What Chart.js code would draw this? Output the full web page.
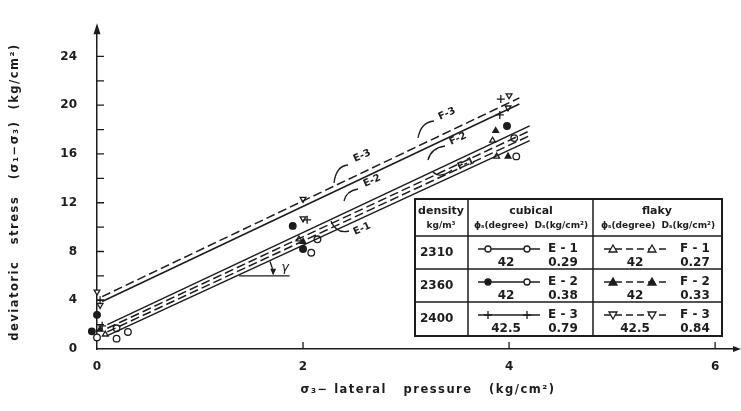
<!DOCTYPE html>
<html lang="en">
<head>
<meta charset="UTF-8">
<title>Deviatoric stress vs lateral pressure</title>
<script src="https://cdn.jsdelivr.net/npm/chart.js"></script>
<style>
  html, body { margin: 0; padding: 0; background: #fff; }
  #wrap { width: 741px; height: 411px; }
</style>
</head>
<body>
<div id="wrap"><canvas id="chart" width="741" height="411"></canvas></div>
<script>
// fitted lines: start / end of each line (x = lateral pressure, y = deviatoric stress)
const e1Line = { x: [0.1, 4.2], y: [1.1, 17.1] };
const e2Line = { x: [0.1, 4.2], y: [2.0, 18.3] };
const e3Line = { x: [0.05, 4.1], y: [3.9, 20.1] };
const f1Line = { x: [0.1, 4.2], y: [1.4, 17.5] };
const f2Line = { x: [0.1, 4.2], y: [1.7, 17.9] };
const f3Line = { x: [0.05, 4.1], y: [4.3, 20.6] };

// test points
const e1X = [0, 0.19, 0.19, 0.3, 2.14, 2.08, 4.07, 4.05];
const e1Y = [0.95, 1.7, 0.85, 1.4, 9.0, 7.9, 15.8, 17.3];
const e2X = [-0.1, -0.05, 0, 1.9, 2.0, 3.98];
const e2Y = [1.9, 1.45, 2.8, 10.1, 8.2, 18.3];
const e3X = [0.03, 0.05, 2.04, 3.92, 3.91];
const e3Y = [4.0, 1.9, 10.6, 20.5, 19.2];
const f1X = [0.08, 1.96, 3.84, 3.88];
const f1Y = [1.2, 9.0, 17.1, 15.8];
const f2X = [0.03, 2.0, 3.87, 3.99];
const f2Y = [1.6, 8.8, 17.9, 15.8];
const f3X = [0, 0.03, 2.0, 2.0, 4.0, 3.99];
const f3Y = [4.7, 3.6, 12.3, 10.7, 20.8, 19.8];

// angle reference line (gamma)
const gammaX = [1.38, 1.87];
const gammaY = [6.0, 6.0];

// table contents
const densities = ['2310', '2360', '2400'];
const cubicalNames = ['E - 1', 'E - 2', 'E - 3'];
const cubicalPhi = ['42', '42', '42.5'];
const cubicalD = ['0.29', '0.38', '0.79'];
const flakyNames = ['F - 1', 'F - 2', 'F - 3'];
const flakyPhi = ['42', '42', '42.5'];
const flakyD = ['0.27', '0.33', '0.84'];

const ink = '#1c1c1c';
const fam = '"DejaVu Sans", sans-serif';

const pts = (xs, ys) => xs.map((x, i) => ({ x: x, y: ys[i] }));

function fitLine(l, dashed) {
    return {
        data: pts(l.x, l.y), showLine: true, pointRadius: 0,
        borderColor: ink, borderWidth: 1.5, borderDash: dashed ? [9, 4] : [], clip: false
    };
}
function marks(xs, ys, style, filled, rot) {
    return {
        data: pts(xs, ys), showLine: false, pointStyle: style, pointRotation: rot || 0,
        pointRadius: style === 'cross' ? 4 : 3.3, pointBorderWidth: 1.3,
        pointBorderColor: ink, pointBackgroundColor: filled ? ink : '#fff', clip: false
    };
}

// small marker for the table samples
function drawMark(ctx, kind, x, y) {
    ctx.save();
    ctx.lineWidth = 1.3;
    ctx.strokeStyle = ink;
    ctx.fillStyle = ink;
    ctx.beginPath();
    if (kind === 'oc' || kind === 'fc') {
        ctx.arc(x, y, 3, 0, Math.PI * 2);
        if (kind === 'fc') ctx.fill(); else { ctx.fillStyle = '#fff'; ctx.fill(); }
        ctx.stroke();
    } else if (kind === 'plus') {
        ctx.moveTo(x - 4, y); ctx.lineTo(x + 4, y);
        ctx.moveTo(x, y - 4); ctx.lineTo(x, y + 4);
        ctx.stroke();
    } else {
        const d = kind === 'down' ? -1 : 1;
        ctx.moveTo(x, y - 4 * d); ctx.lineTo(x + 4, y + 3 * d); ctx.lineTo(x - 4, y + 3 * d);
        ctx.closePath();
        if (kind === 'ft') ctx.fill(); else { ctx.fillStyle = '#fff'; ctx.fill(); }
        ctx.stroke();
    }
    ctx.restore();
}

function tiltedText(ctx, txt, x, y, ang) {
    ctx.save();
    ctx.translate(x, y);
    ctx.rotate(ang);
    ctx.fillText(txt, 0, 0);
    ctx.restore();
}

const decor = {
    id: 'decor',
    afterDraw(chart) {
        const ctx = chart.ctx;
        const xs = chart.scales.x, ys = chart.scales.y;
        const a = chart.chartArea;
        const x0 = xs.getPixelForValue(0), y0 = ys.getPixelForValue(0);
        ctx.save();
        ctx.strokeStyle = ink;
        ctx.fillStyle = ink;
        ctx.lineWidth = 1.5;

        // arrow heads
        ctx.beginPath();
        ctx.moveTo(x0, a.top - 4); ctx.lineTo(x0 - 3.5, a.top + 7); ctx.lineTo(x0 + 3.5, a.top + 7);
        ctx.closePath(); ctx.fill();
        ctx.beginPath();
        ctx.moveTo(741, y0); ctx.lineTo(733, y0 - 3); ctx.lineTo(733, y0 + 3);
        ctx.closePath(); ctx.fill();

        // inner ticks
        ctx.lineWidth = 1.3;
        ctx.beginPath();
        for (let v = 2; v <= 24; v += 2) {
            const py = ys.getPixelForValue(v);
            ctx.moveTo(x0, py); ctx.lineTo(x0 + 7, py);
        }
        for (let v = 2; v <= 6; v += 2) {
            const px = xs.getPixelForValue(v);
            ctx.moveTo(px, y0); ctx.lineTo(px, y0 - 7);
        }
        ctx.stroke();

        // axis titles
        ctx.font = 'bold 11.5px ' + fam;
        ctx.letterSpacing = '1.5px';
        ctx.textAlign = 'center';
        ctx.textBaseline = 'middle';
        ctx.save();
        ctx.translate(15, 192);
        ctx.rotate(-Math.PI / 2);
        ctx.fillText('deviatoric   stress   (σ\u2081\u2212σ\u2083)  (kg/cm\u00b2)', 0, 0);
        ctx.restore();
        ctx.fillText('σ\u2083\u2212 lateral   pressure   (kg/cm\u00b2)', 428, 390);
        ctx.letterSpacing = '0px';

        // gamma angle
        const vx = xs.getPixelForValue(gammaX[0]), vy = ys.getPixelForValue(gammaY[0]);
        const ang = Math.atan(((e1Line.y[1] - e1Line.y[0]) * (ys.getPixelForValue(0) - ys.getPixelForValue(1))) /
            ((e1Line.x[1] - e1Line.x[0]) * (xs.getPixelForValue(1) - xs.getPixelForValue(0))));
        ctx.lineWidth = 1.3;
        ctx.beginPath();
        ctx.arc(vx, vy, 34, -ang, -0.06);
        ctx.stroke();
        ctx.beginPath();
        ctx.moveTo(vx + 34, vy - 0.5); ctx.lineTo(vx + 31, vy - 7); ctx.lineTo(vx + 37, vy - 7);
        ctx.closePath(); ctx.fill();
        ctx.font = 'italic 13px ' + fam;
        ctx.fillText('γ', vx + 46, vy - 8);

        // line labels with curved leaders
        const tilt = -ang;
        ctx.font = 'bold 10px ' + fam;
        const labels = [
            ['E-3', 362, 156, [348, 165, 336, 166, 334, 183]],
            ['E-2', 372, 181, [358, 189, 346, 191, 344, 201]],
            ['E-1', 362, 229, [349, 231, 336, 234, 331, 221]],
            ['F-3', 447, 114, [434, 121, 421, 122, 418, 138]],
            ['F-2', 458, 139, [445, 146, 431, 148, 428, 160]],
            ['F-1', 466, 164, [452, 170, 440, 179, 433, 172]]
        ];
        labels.forEach(l => {
            ctx.fillStyle = ink;
            tiltedText(ctx, l[0], l[1], l[2], tilt);
            const c = l[3];
            ctx.beginPath();
            ctx.moveTo(c[0], c[1]);
            ctx.quadraticCurveTo(c[2], c[3], c[4], c[5]);
            ctx.stroke();
        });

        // inset table
        const T = { l: 415, r: 722, t: 199, b: 336, rows: [236, 269, 302], cols: [468, 593] };
        ctx.fillStyle = '#fff';
        ctx.fillRect(T.l, T.t, T.r - T.l, T.b - T.t);
        ctx.strokeStyle = ink;
        ctx.lineWidth = 2;
        ctx.strokeRect(T.l, T.t, T.r - T.l, T.b - T.t);
        ctx.lineWidth = 1.5;
        ctx.beginPath();
        T.rows.forEach(r => { ctx.moveTo(T.l, r); ctx.lineTo(T.r, r); });
        T.cols.forEach(c => { ctx.moveTo(c, T.t); ctx.lineTo(c, T.b); });
        ctx.stroke();

        ctx.fillStyle = ink;
        ctx.textAlign = 'center';
        ctx.textBaseline = 'middle';
        ctx.font = 'bold 11px ' + fam;
        ctx.fillText('density', 441, 211);
        ctx.fillText('cubical', 531, 211);
        ctx.fillText('flaky', 657, 211);
        ctx.font = 'bold 9px ' + fam;
        ctx.fillText('kg/m\u00b3', 441, 226);
        ctx.fillText('ϕ\u209b(degree)  D\u209b(kg/cm\u00b2)', 531, 226);
        ctx.fillText('ϕ\u209b(degree)  D\u209b(kg/cm\u00b2)', 658, 226);

        const cubMarks = [['oc', 'oc'], ['fc', 'oc'], ['plus', 'plus']];
        const flkMarks = [['ot', 'ot'], ['ft', 'ft'], ['down', 'down']];
        ctx.font = 'bold 12px ' + fam;
        for (let i = 0; i < 3; i++) {
            const top = T.rows[i];
            const yA = top + 13, yB = top + 27, mid = top + 17;
            ctx.textAlign = 'left';
            ctx.fillText(densities[i], 420, mid);
            ctx.textAlign = 'center';
            // cubical sample (solid)
            ctx.lineWidth = 1.3;
            ctx.setLineDash([]);
            ctx.beginPath(); ctx.moveTo(478, yA); ctx.lineTo(540, yA); ctx.stroke();
            drawMark(ctx, cubMarks[i][0], 488, yA);
            drawMark(ctx, cubMarks[i][1], 527, yA);
            ctx.fillText(cubicalNames[i], 563, yA);
            ctx.fillText(cubicalPhi[i], 506, yB);
            ctx.fillText(cubicalD[i], 563, yB);
            // flaky sample (dashed)
            ctx.setLineDash([7, 4]);
            ctx.beginPath(); ctx.moveTo(604, yA); ctx.lineTo(667, yA); ctx.stroke();
            ctx.setLineDash([]);
            drawMark(ctx, flkMarks[i][0], 613, yA);
            drawMark(ctx, flkMarks[i][1], 652, yA);
            ctx.fillText(flakyNames[i], 695, yA);
            ctx.fillText(flakyPhi[i], 635, yB);
            ctx.fillText(flakyD[i], 695, yB);
        }
        ctx.restore();
    }
};

new Chart(document.getElementById('chart'), {
    type: 'scatter',
    data: {
        datasets: [
            fitLine(e1Line, false), fitLine(e2Line, false), fitLine(e3Line, false),
            fitLine(f1Line, true), fitLine(f2Line, true), fitLine(f3Line, true),
            { data: pts(gammaX, gammaY), showLine: true, pointRadius: 0, borderColor: ink, borderWidth: 1.3 },
            marks(e1X, e1Y, 'circle', false),
            marks(e2X, e2Y, 'circle', true),
            marks(e3X, e3Y, 'cross', false),
            marks(f1X, f1Y, 'triangle', false),
            marks(f2X, f2Y, 'triangle', true),
            marks(f3X, f3Y, 'triangle', false, 180)
        ]
    },
    options: {
        responsive: false,
        animation: false,
        layout: { padding: { left: 0, right: 3.5, top: 10, bottom: 0 } },
        plugins: { legend: { display: false }, tooltip: { enabled: false } },
        scales: {
            x: {
                type: 'linear', min: 0, max: 6.2,
                grid: { display: false, drawTicks: false },
                border: { display: true, color: ink, width: 1.5 },
                ticks: { stepSize: 2, includeBounds: false, padding: 11, maxRotation: 0, color: ink,
                         font: { family: fam, size: 12, weight: 'bold' } },
                afterFit: s => { s.height = 62; }
            },
            y: {
                min: 0, max: 26.4,
                grid: { display: false, drawTicks: false },
                border: { display: true, color: ink, width: 1.5 },
                ticks: { stepSize: 4, includeBounds: false, padding: 20, color: ink,
                         font: { family: fam, size: 12, weight: 'bold' } },
                afterFit: s => { s.width = 97; }
            }
        }
    },
    plugins: [decor]
});
</script>
</body>
</html>
